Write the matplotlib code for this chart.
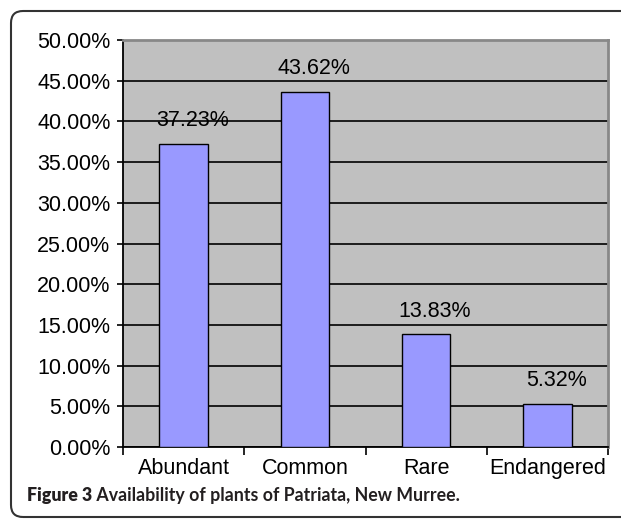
import matplotlib
matplotlib.use("Agg")
import matplotlib.pyplot as plt
from matplotlib.patches import FancyBboxPatch
from matplotlib.transforms import IdentityTransform
from matplotlib.ticker import FixedLocator, FuncFormatter

categories = ["Abundant", "Common", "Rare", "Endangered"]
percent = [37.23, 43.62, 13.83, 5.32]
y_ticks = [0, 5, 10, 15, 20, 25, 30, 35, 40, 45, 50]

plt.rcParams["font.family"] = ["Liberation Sans", "DejaVu Sans"]

fig = plt.figure(figsize=(6.21, 5.19), dpi=100)
ax = fig.add_axes([123 / 621, 1 - 447 / 519, 485 / 621, 407 / 519])
ax.set_facecolor("#c0c0c0")

x = range(len(categories))
ax.bar(x, percent, width=0.4, color="#9999ff", edgecolor="black", linewidth=1, zorder=3)

for xi, v in zip(x, percent):
    ax.annotate("%.2f%%" % v, (xi, v), xytext=(9, 23), textcoords="offset pixels",
                ha="center", va="center", fontsize=15.5, zorder=4)

ax.set_xlim(-0.5, len(categories) - 0.5)
ax.set_ylim(0, 50)
ax.set_yticks(y_ticks)
ax.yaxis.set_major_formatter(FuncFormatter(lambda v, p: "%.2f%%" % v))
ax.yaxis.grid(True, color="black", linewidth=1.2, zorder=1)
ax.tick_params(axis="y", length=4, width=1.2, labelsize=15.5, pad=5)

ax.set_xticks(list(x))
ax.set_xticklabels(categories)
ax.xaxis.set_minor_locator(FixedLocator([i - 0.5 for i in range(len(categories) + 1)]))
ax.tick_params(axis="x", which="major", length=0, labelsize=15.5, pad=8)
ax.tick_params(axis="x", which="minor", length=6, width=1.2)

for side in ("left", "bottom"):
    ax.spines[side].set_color("black")
    ax.spines[side].set_linewidth(1.3)
for side in ("top", "right"):
    ax.spines[side].set_color("#888888")
    ax.spines[side].set_linewidth(2)

# rounded frame around the panel
frame = FancyBboxPatch((11, 2), 700, 506, boxstyle="round,pad=0,rounding_size=12",
                       transform=IdentityTransform(), facecolor="none",
                       edgecolor="#333333", linewidth=1.5)
fig.patches.append(frame)

cap_font = ["Lato", "DejaVu Sans"]
cap = fig.text(27 / 621, 1 - 496 / 519, "Figure 3", fontsize=12.8, fontweight="heavy",
               family=cap_font, color="#231f20", va="center")
ax.annotate(" Availability of plants of Patriata, New Murree.", xy=(1, 0.5), xycoords=cap,
            va="center", ha="left", fontsize=12.8, fontweight="bold",
            family=cap_font, color="#231f20", annotation_clip=False)

fig.savefig("out.png", dpi=100)
